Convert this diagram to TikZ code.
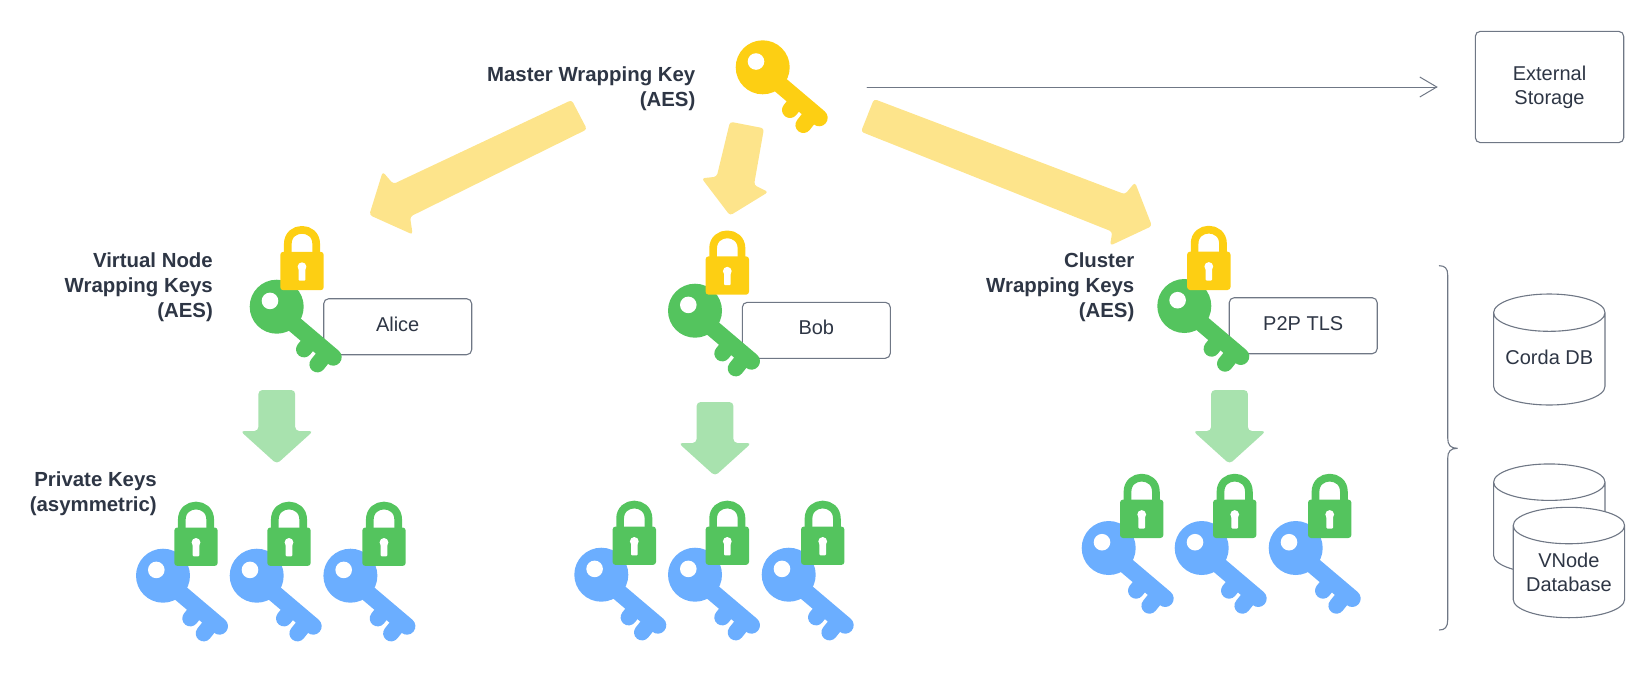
\documentclass[tikz,border=0pt]{standalone}
\usepackage{fontspec}
\setmainfont{Liberation Sans}
\usetikzlibrary{arrows.meta,shapes.geometric}
\definecolor{keyyellow}{HTML}{FDCF13}
\definecolor{keygreen}{HTML}{54C45E}
\definecolor{keyblue}{HTML}{6BAEFF}
\definecolor{fatyellow}{HTML}{FDE48B}
\definecolor{fatgreen}{HTML}{A8E2AE}
\definecolor{inkdark}{HTML}{2E3645}
\definecolor{linegrey}{HTML}{6F7785}
\tikzset{
  pics/keyicon/.style={code={
    \fill [#1] (0,0) circle [radius=27];
    \draw [#1,line width=17pt,line cap=round] (-1.3,1.5) -- (56.5,50.5);
    \draw [#1,line width=16pt,line cap=round] (35,33) -- (27.3,42.7);
    \draw [#1,line width=16pt,line cap=round] (50,46) -- (40.7,57.7);
    \fill [white] (-6.7,-5.8) circle [radius=8.3];
  }},
  pics/lockicon/.style={code={
    \draw [#1,line width=7.7pt] (-14.2,-17) -- (-14.2,-27) .. controls (-14.2,-45.9) and (14.2,-45.9) .. (14.2,-27) -- (14.2,-17);
    \fill [#1,rounded corners=3pt] (-21.7,-19.2) rectangle (21.7,19.2);
    \fill [white] (0,-4.3) circle [radius=4.4];
    \fill [white,rounded corners=1pt] (-3.3,-4) rectangle (3.3,9.7);
  }},
  namebox/.style={draw=linegrey,line width=1.1pt,rounded corners=5pt,fill=white,text=inkdark,minimum width=148pt,minimum height=56pt,font=\fontsize{20}{24}\selectfont,align=center},
  keybox/.style={namebox,text height=15pt,text depth=6pt},
  boldlabel/.style={anchor=east,align=right,inner sep=0pt,text=inkdark,font=\fontsize{20.4}{24.8}\selectfont\bfseries},
  dbshape/.style={cylinder,shape border rotate=90,aspect=0.395,anchor=shape center,draw=linegrey,line width=1.1pt,fill=white,text=inkdark,minimum width=111.4pt,align=center,font=\fontsize{20}{24}\selectfont},
  fatarrow/.style={rounded corners=3pt},
  fatdown/.style={rounded corners=4pt}
}
\begin{document}
\begin{tikzpicture}[x=1pt,y=-1pt,line cap=round,line join=round]
\useasboundingbox (0,0) rectangle (1652,678);
\fill [fatarrow,fatyellow] (571.7,100) -- (587,129.3) -- (410,216.7) -- (412.7,234.5) -- (369.3,215) -- (382.7,171.7) -- (393.3,184) -- cycle;
\fill [fatarrow,fatyellow] (730,121.7) -- (764,128.3) -- (754,185) -- (768.3,192) -- (730,215.5) -- (701.7,178.3) -- (716.7,176.7) -- cycle;
\fill [fatarrow,fatyellow] (874,99) -- (861,131.7) -- (1112.3,231.7) -- (1110,245.7) -- (1152,226) -- (1135,182.3) -- (1125,194.3) -- cycle;
\foreach \ax/\ay in {276.8/390,715/402,1229.5/390}
{
\fill [fatdown,fatgreen] (\ax-18.4,\ay) -- (\ax+18.4,\ay) -- (\ax+18.4,\ay+41) -- (\ax+36.5,\ay+41) -- (\ax,\ay+74) -- (\ax-36.5,\ay+41) -- (\ax-18.4,\ay+41) -- cycle;
}
\node [keybox] (alice) at (397.7,326.7) {Alice};
\node [keybox] (bob) at (816.3,330.3) {Bob};
\node [keybox] (ptls) at (1303.2,325.7) {P2P TLS};
\node [namebox,minimum width=148.4pt,minimum height=111.3pt,text depth=3pt] (storage) at (1549.5,87) {External\\Storage};
\coordinate (wrapout) at (867,87);
\draw [linegrey,line width=1pt,shorten >=37pt,-{Straight Barb[length=17pt,width=20pt,line width=1pt]}] (wrapout) -- (storage.west);
\pic at (762.7,67.3) {keyicon=keyyellow};
\pic at (276.7,306.7) {keyicon=keygreen};
\pic at (302,271) {lockicon=keyyellow};
\pic at (695,310.7) {keyicon=keygreen};
\pic at (727.3,275.5) {lockicon=keyyellow};
\pic at (1184.3,306) {keyicon=keygreen};
\pic at (1208.8,270.8) {lockicon=keyyellow};
\foreach \kx/\ky/\lx/\ly in {163/575.7/196/546.7,256.7/575.7/289/546.7,350.4/575.7/384/546.7,
601.3/574.7/634.3/545.7,695/574.7/727.3/545.7,788.7/574.7/822.7/545.7,
1108.7/548/1141.7/518.8,1201.7/548/1234.7/518.8,1295.7/548/1329.7/518.8}
{
\pic at (\kx,\ky) {keyicon=keyblue};
\pic at (\lx,\ly) {lockicon=keygreen};
}
\node [boldlabel] (masterlabel) at (695.5,89) {Master Wrapping Key\\(AES)};
\node [boldlabel] (vnodelabel) at (213,287) {Virtual Node\\Wrapping Keys\\(AES)};
\node [boldlabel] (clusterlabel) at (1134.5,287) {Cluster\\Wrapping Keys\\(AES)};
\node [boldlabel] (privatelabel) at (157,494) {Private Keys\\(asymmetric)};
\node [dbshape,minimum height=111pt,text depth=10pt] (cordadb) at (1549.3,349.5) {Corda DB};
\node [dbshape,minimum height=109.7pt] (vnodeback) at (1549.3,518.8) {\phantom{Database}};
\node [dbshape,minimum height=110.4pt,text depth=6pt] (vnodefront) at (1568.9,562.5) {VNode\\Database};
\draw [linegrey,line width=1.1pt] (1439.3,265.7) .. controls (1445,265.7) and (1447.7,268.5) .. (1447.7,275) -- (1447.7,438) .. controls (1447.7,445) and (1450.5,448.3) .. (1457.3,448.3) .. controls (1450.5,448.3) and (1447.7,451.5) .. (1447.7,458.3) -- (1447.7,620) .. controls (1447.7,627) and (1445,630) .. (1439.3,630);
\end{tikzpicture}
\end{document}
